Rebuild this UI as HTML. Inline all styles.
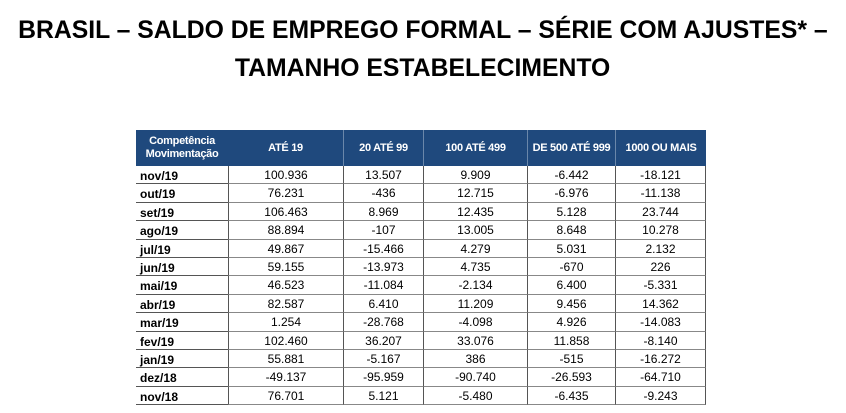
<!DOCTYPE html>
<html><head><meta charset="utf-8"><style>
body{margin:0;width:846px;height:413px;background:#fff;overflow:hidden;font-family:"Liberation Sans",sans-serif;}
.t{position:absolute;left:0;width:846px;text-align:center;font-weight:bold;font-size:25px;color:#000;}
.t span{display:inline-block;transform:scaleX(0.99);white-space:nowrap;}
#tbl{position:absolute;left:0;top:0;}
.c{position:absolute;font-size:12px;text-align:center;white-space:nowrap;box-sizing:border-box;}
.hd{font-size:11px;letter-spacing:-0.3px;}
</style></head><body>
<div class="t" style="top:16px"><span>BRASIL – SALDO DE EMPREGO FORMAL – SÉRIE COM AJUSTES* –</span></div>
<div class="t" style="top:54px"><span>TAMANHO ESTABELECIMENTO</span></div>
<div id="tbl"></div>
<script>
const headers=["ATÉ 19","20 ATÉ 99","100 ATÉ 499","DE 500 ATÉ 999","1000 OU MAIS"];
const months=["nov/19","out/19","set/19","ago/19","jul/19","jun/19","mai/19","abr/19","mar/19","fev/19","jan/19","dez/18","nov/18"];
const ate19=["100.936","76.231","106.463","88.894","49.867","59.155","46.523","82.587","1.254","102.460","55.881","-49.137","76.701"];
const s20a99=["13.507","-436","8.969","-107","-15.466","-13.973","-11.084","6.410","-28.768","36.207","-5.167","-95.959","5.121"];
const s100a499=["9.909","12.715","12.435","13.005","4.279","4.735","-2.134","11.209","-4.098","33.076","386","-90.740","-5.480"];
const s500a999=["-6.442","-6.976","5.128","8.648","5.031","-670","6.400","9.456","4.926","11.858","-515","-26.593","-6.435"];
const s1000=["-18.121","-11.138","23.744","10.278","2.132","226","-5.331","14.362","-14.083","-8.140","-16.272","-64.710","-9.243"];
const series=[ate19,s20a99,s100a499,s500a999,s1000];
const colX=[136,228,343,423,527,615,706];
const top0=130,headH=36,rowH=18.4;
const tbl=document.getElementById('tbl');
function cell(x,y,w,h,txt,css){const d=document.createElement('div');d.className='c';d.style.cssText=`left:${x}px;top:${y}px;width:${w}px;height:${h}px;line-height:${h}px;`+css;d.textContent=txt;tbl.appendChild(d);return d;}
const hb=cell(colX[0],top0,colX[6]-colX[0],headH,'','background:#1f497d;');


const h0=cell(colX[0],top0,colX[1]-colX[0],headH,'','color:#fff;font-weight:bold;line-height:13px;padding-top:5px;');
h0.className='c hd';
h0.innerHTML='Competência<br>Movimentação';


headers.forEach((h,i)=>{const d=cell(colX[i+1],top0,colX[i+2]-colX[i+1],headH,h,'color:#fff;font-weight:bold;'+(i>0?'border-left:1px solid #6a87aa;':''));
d.className='c hd';

});
months.forEach((m,r)=>{const y=top0+headH+r*rowH;
const d=cell(colX[0],y,colX[1]-colX[0],rowH,m,'text-align:left;padding-left:4px;font-weight:bold;line-height:21px;border-bottom:1.5px solid #555;');


series.forEach((s,i)=>{const c=cell(colX[i+1],y,colX[i+2]-colX[i+1],rowH,s[r],'line-height:19px;border-bottom:1px solid #888;border-left:1px solid #555;'+(i==4?'border-right:1px solid #555;':''));

});});
</script>
</body></html>
